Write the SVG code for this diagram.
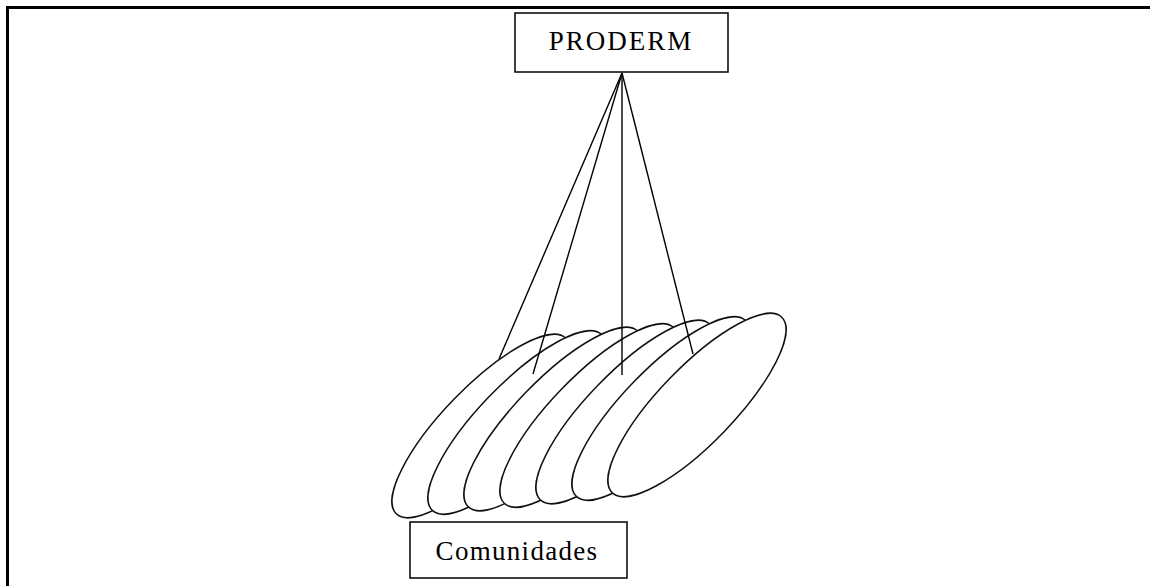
<svg xmlns="http://www.w3.org/2000/svg" width="1150" height="586" viewBox="0 0 1150 586">
<style>
.frame{stroke:#000;stroke-width:3;fill:none}
.box{fill:#fff;stroke:#000;stroke-width:1.5}
.ell{fill:#fff;stroke:#111;stroke-width:1.5}
.conn{stroke:#000;stroke-width:1.4;fill:none}
.lbl{font-family:"Liberation Serif","Times New Roman",serif;font-size:27px;fill:#000}
</style>
<rect width="1150" height="586" fill="#fff"/>
<g id="frame">
<path class="frame" d="M7.5,586 V7.5 H1150"/>
</g>
<g id="comunidades-ellipses">
<ellipse class="ell" cx="481" cy="426" rx="122" ry="38" transform="rotate(-46 481 426)"/>
<ellipse class="ell" cx="517" cy="422.5" rx="122" ry="38" transform="rotate(-46 517 422.5)"/>
<ellipse class="ell" cx="553" cy="419" rx="122" ry="38" transform="rotate(-46 553 419)"/>
<ellipse class="ell" cx="589" cy="415.5" rx="122" ry="38" transform="rotate(-46 589 415.5)"/>
<ellipse class="ell" cx="625" cy="412" rx="122" ry="38" transform="rotate(-46 625 412)"/>
<ellipse class="ell" cx="661" cy="408.5" rx="122" ry="38" transform="rotate(-46 661 408.5)"/>
<ellipse class="ell" cx="697" cy="405" rx="122" ry="38" transform="rotate(-46 697 405)"/>
</g>
<g id="connectors">
<line class="conn" x1="622" y1="73" x2="499" y2="359"/>
<line class="conn" x1="622" y1="73" x2="533" y2="374"/>
<line class="conn" x1="622" y1="73" x2="622" y2="375"/>
<line class="conn" x1="622" y1="73" x2="693" y2="354"/>
</g>
<g id="node-proderm">
<rect class="box" x="515" y="13" width="213" height="59"/>
<text class="lbl" x="621" y="50" text-anchor="middle" letter-spacing="2">PRODERM</text>
</g>
<g id="node-comunidades">
<rect class="box" x="410" y="522" width="217" height="56"/>
<text class="lbl" x="517" y="560" text-anchor="middle" letter-spacing="1.3">Comunidades</text>
</g>
</svg>
